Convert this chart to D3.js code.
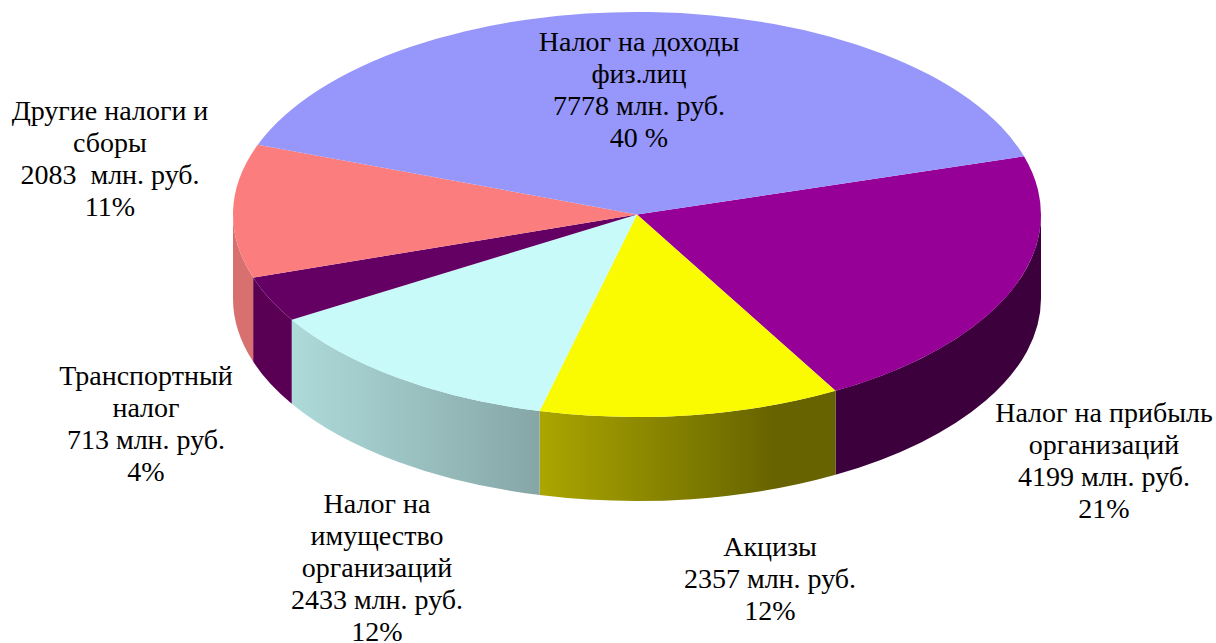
<!DOCTYPE html>
<html>
<head>
<meta charset="utf-8">
<script src="https://cdn.jsdelivr.net/npm/d3@7"></script>
<style>
  html, body { margin: 0; padding: 0; background: #fff; overflow: hidden; }
  text { font-family: "Liberation Serif", serif; font-size: 28px; fill: #000; white-space: pre; }
</style>
</head>
<body>
<script>
var width = 1216,
    height = 643;

// slices go clockwise, starting from the blue / purple border
var categories = [
  ['Налог на прибыль', 'организаций'],
  ['Акцизы'],
  ['Налог на', 'имущество', 'организаций'],
  ['Транспортный', 'налог'],
  ['Другие налоги и', 'сборы'],
  ['Налог на доходы', 'физ.лиц']
];
var values = [4199, 2357, 2433, 713, 2083, 7778];
var valueLabels = ['4199 млн. руб.', '2357 млн. руб.', '2433 млн. руб.', '713 млн. руб.', '2083  млн. руб.', '7778 млн. руб.'];
var percentLabels = ['21%', '12%', '12%', '4%', '11%', '40 %'];

var topColors = ['#960096', '#fafa00', '#c8fafa', '#640064', '#fb7d7d', '#9696fb'];
var sideLeft = ['#3c003c', '#aba600', '#aedada', '#5a0054', '#d87070', '#5a5a96'];
var sideRight = ['#3c003c', '#666300', '#86a6a6', '#5a0054', '#d87070', '#5a5a96'];
// where the shading stops getting darker, yellow flattens out before its end
var sideEnds = [1, 0.8, 1, 1, 1, 1];

// x of label centre, baseline of the first line
var labelAnchors = [[1104, 421.5], [770, 556], [377, 512.5], [146, 385], [110, 119.5], [639, 50.5]];
var lineHeight = 32;

var cx = 637,
    cy = 214.5,
    rx = 404,
    ry = 202.5,
    depth = 84;

var svg = d3.select('body').append('svg')
    .attr('width', width)
    .attr('height', height);

var startAngle = 73.3 * Math.PI / 180;

var pie = d3.pie()
    .sort(null)
    .startAngle(startAngle)
    .endAngle(startAngle + 2 * Math.PI);

var slices = pie(values);

var arc = d3.arc()
    .innerRadius(0)
    .outerRadius(rx);

function px(a) { return cx + rx * Math.sin(a); }
function py(a) { return cy - ry * Math.cos(a); }

// front part of the rim only: angles between 90 and 270 degrees
function wallRange(d) {
  var a0 = Math.max(d.startAngle, Math.PI / 2),
      a1 = Math.min(d.endAngle, 3 * Math.PI / 2);
  return a0 < a1 ? [a0, a1] : null;
}

function wallPath(r) {
  var large = r[1] - r[0] > Math.PI ? 1 : 0;
  return 'M' + px(r[0]) + ',' + py(r[0]) +
    'A' + rx + ',' + ry + ' 0 ' + large + ' 1 ' + px(r[1]) + ',' + py(r[1]) +
    'L' + px(r[1]) + ',' + (py(r[1]) + depth) +
    'A' + rx + ',' + ry + ' 0 ' + large + ' 0 ' + px(r[0]) + ',' + (py(r[0]) + depth) +
    'Z';
}

var defs = svg.append('defs');

slices.forEach(function(d, i) {
  var r = wallRange(d);
  if (!r) return;
  // rim runs right to left on the front, so the left stop is at the end angle
  var grad = defs.append('linearGradient')
      .attr('id', 'wall' + i)
      .attr('gradientUnits', 'userSpaceOnUse')
      .attr('x1', px(r[1]))
      .attr('x2', px(r[0]))
      .attr('y1', 0)
      .attr('y2', 0);
  grad.append('stop').attr('offset', 0).attr('stop-color', sideLeft[i]);
  grad.append('stop').attr('offset', sideEnds[i]).attr('stop-color', sideRight[i]);
});

// walls first, then the flat top
svg.append('g').selectAll('path')
    .data(slices)
    .enter().append('path')
    .attr('d', function(d) {
      var r = wallRange(d);
      return r ? wallPath(r) : null;
    })
    .attr('fill', function(d, i) { return 'url(#wall' + i + ')'; });

svg.append('g')
    .attr('transform', 'translate(' + cx + ',' + cy + ') scale(1,' + (ry / rx) + ')')
    .selectAll('path')
    .data(slices)
    .enter().append('path')
    .attr('d', arc)
    .attr('fill', function(d, i) { return topColors[i]; });

var labels = svg.append('g').selectAll('text')
    .data(categories)
    .enter().append('text')
    .attr('text-anchor', 'middle')
    .attr('y', function(d, i) { return labelAnchors[i][1]; });

labels.selectAll('tspan')
    .data(function(d, i) { return d.concat([valueLabels[i], percentLabels[i]]); })
    .enter().append('tspan')
    .attr('x', function() { return labelAnchors[categories.indexOf(this.parentNode.__data__)][0]; })
    .attr('dy', function(d, i) { return i ? lineHeight : 0; })
    .text(function(d) { return d; });
</script>
</body>
</html>
